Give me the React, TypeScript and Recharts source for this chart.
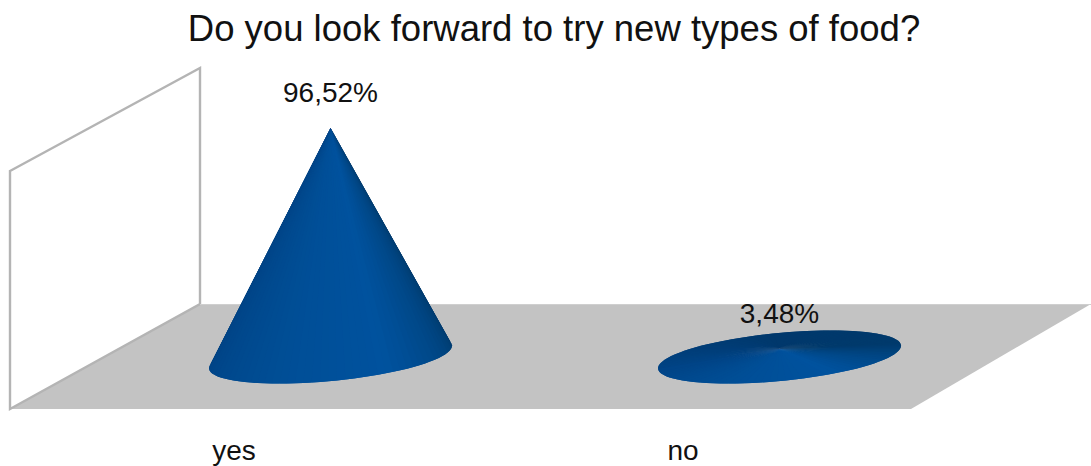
import { BarChart, Bar, XAxis, YAxis, LabelList, Customized } from 'recharts';

const categories = ['yes', 'no'];
const shares = [96.52, 3.48];

const chartData = categories.map((name, i) => ({ name, share: shares[i] }));

const FONT = '"Liberation Sans", Arial, sans-serif';
const TILT = (-5.5 * Math.PI) / 180;
const BASE_RY = 24;

// shade around the base ellipse: [angle in degrees, r, g, b]
const shadeStops = [
  [0, 0, 58, 108],
  [30, 0, 70, 132],
  [67, 0, 82, 158],
  [120, 0, 78, 150],
  [180, 0, 68, 134],
  [270, 0, 56, 108],
  [360, 0, 58, 108],
];

function shadeAt(deg: number) {
  for (let i = 1; i < shadeStops.length; i++) {
    const a = shadeStops[i - 1];
    const b = shadeStops[i];
    if (deg <= b[0]) {
      const k = (deg - a[0]) / (b[0] - a[0]);
      const c = [1, 2, 3].map((j) => Math.round(a[j] + (b[j] - a[j]) * k));
      return `rgb(${c[0]},${c[1]},${c[2]})`;
    }
  }
  return 'rgb(0,58,108)';
}

function ConeShape({ x, y, width, height }: any) {
  const cx = x + width / 2;
  const cy = y + height;
  const rx = width / 2;
  const at = (deg: number) => {
    const t = (deg * Math.PI) / 180;
    const ex = rx * Math.cos(t);
    const ey = BASE_RY * Math.sin(t);
    return [cx + ex * Math.cos(TILT) - ey * Math.sin(TILT), cy + ex * Math.sin(TILT) + ey * Math.cos(TILT)];
  };
  const step = 4;
  const back: number[] = [];
  const front: number[] = [];
  for (let d = 180; d < 360; d += step) back.push(d);
  for (let d = 0; d < 180; d += step) front.push(d);
  // slices overlap the previous one so no seams show
  return (
    <g>
      {[...back, ...front].map((d) => {
        const p = at(d);
        const q = at(d + step);
        const r = at(d - step);
        return (
          <polygon
            key={d}
            points={`${cx},${y} ${r[0]},${r[1]} ${p[0]},${p[1]} ${q[0]},${q[1]}`}
            fill={shadeAt(d + step / 2)}
          />
        );
      })}
    </g>
  );
}

function Backdrop() {
  return (
    <g>
      <text x={554} y={41} textAnchor="middle" fontFamily={FONT} fontSize={36.5} fill="#111">
        Do you look forward to try new types of food?
      </text>
      <polygon points="200,304 1091,304 911,409 10,409" fill="#c3c3c3" />
      <polygon points="10,171 200,68 200,304 10,409" fill="#fff" stroke="#b4b4b4" strokeWidth={2.4} />
      <line x1={200} y1={304.5} x2={1091} y2={304.5} stroke="#cfcfcf" strokeWidth={1} />
    </g>
  );
}

function CategoryTick({ x, y, payload }: any) {
  return (
    <text x={x - 96} y={y + 95} textAnchor="middle" fontFamily={FONT} fontSize={28} fill="#111">
      {payload.value}
    </text>
  );
}

export default function App() {
  return (
    <div style={{ position: 'absolute', left: 0, top: 0, width: 1091, height: 466, background: '#fff' }}>
      <BarChart
        width={1091}
        height={466}
        data={chartData}
        margin={{ top: 119.8, right: 87.5, bottom: 108, left: 105.5 }}
        barSize={244}
      >
        <Customized component={Backdrop} />
        <XAxis
          dataKey="name"
          height={1}
          axisLine={false}
          tickLine={false}
          interval={0}
          tick={CategoryTick}
        />
        <YAxis hide domain={[0, 100]} />
        <Bar dataKey="share" shape={ConeShape} isAnimationActive={false}>
          <LabelList
            dataKey="share"
            position="top"
            offset={26}
            formatter={(v: number) => `${v.toFixed(2).replace('.', ',')}%`}
            style={{ fontFamily: FONT, fontSize: 28, fill: '#111' }}
          />
        </Bar>
      </BarChart>
    </div>
  );
}
